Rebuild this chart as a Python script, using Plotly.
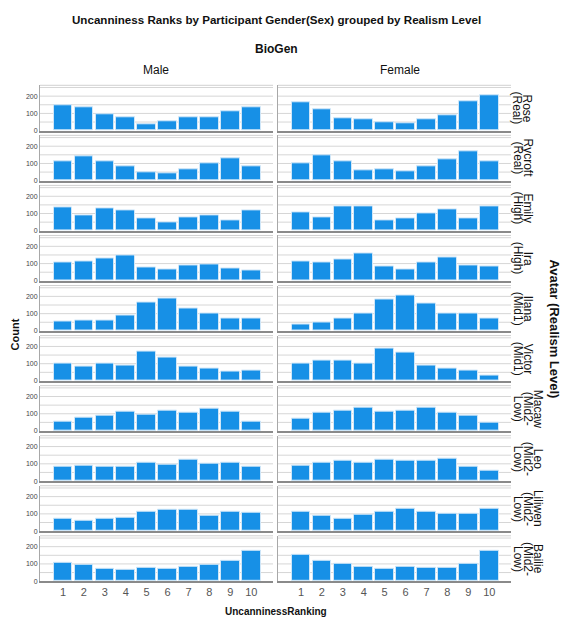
import plotly.graph_objects as go

W, H = 564, 621

ranks = [1, 2, 3, 4, 5, 6, 7, 8, 9, 10]
tick_labels = ["1", "2", "3", "4", "5", "6", "7", "8", "9", "10"]
genders = ["Male", "Female"]
avatars = ["Rose", "Rycroft", "Emily", "Ira", "Ilana", "Victor", "Macaw", "Leo", "Liliwen", "Bailie"]
levels = [["(Real)"], ["(Real)"], ["(High)"], ["(High)"], ["(Mid1)"], ["(Mid1)"],
          ["(Mid2-", "Low)"], ["(Mid2-", "Low)"], ["(Mid2-", "Low)"], ["(Mid2-", "Low)"]]

male_rose = [146, 135, 94, 75, 37, 56, 75, 79, 110, 137]
male_rycroft = [112, 142, 115, 85, 46, 40, 67, 98, 131, 85]
male_emily = [137, 92, 131, 119, 71, 48, 75, 90, 62, 119]
male_ira = [104, 115, 129, 150, 77, 67, 87, 94, 71, 58]
male_ilana = [52, 58, 60, 87, 165, 187, 127, 98, 69, 73]
male_victor = [98, 83, 98, 90, 171, 138, 85, 73, 56, 60]
male_macaw = [52, 77, 92, 113, 94, 121, 108, 131, 110, 56]
male_leo = [81, 92, 81, 81, 106, 96, 125, 102, 106, 83]
male_liliwen = [69, 58, 71, 79, 110, 125, 125, 87, 115, 108]
male_bailie = [106, 96, 71, 65, 75, 69, 81, 94, 117, 175]

female_rose = [163, 125, 69, 65, 50, 40, 65, 88, 171, 204]
female_rycroft = [98, 146, 113, 58, 67, 52, 83, 123, 173, 110]
female_emily = [106, 79, 142, 144, 60, 73, 100, 123, 73, 142]
female_ira = [110, 104, 125, 158, 81, 67, 108, 135, 88, 81]
female_ilana = [37, 50, 69, 100, 179, 204, 160, 100, 100, 69]
female_victor = [102, 121, 119, 102, 190, 162, 87, 69, 63, 33]
female_macaw = [73, 108, 119, 135, 115, 119, 137, 104, 90, 48]
female_leo = [92, 108, 119, 104, 123, 117, 119, 127, 85, 58]
female_liliwen = [112, 88, 73, 96, 110, 127, 115, 100, 100, 127]
female_bailie = [154, 119, 102, 85, 73, 85, 75, 79, 102, 175]

male = [male_rose, male_rycroft, male_emily, male_ira, male_ilana, male_victor,
        male_macaw, male_leo, male_liliwen, male_bailie]
female = [female_rose, female_rycroft, female_emily, female_ira, female_ilana, female_victor,
          female_macaw, female_leo, female_liliwen, female_bailie]

FONT = "Liberation Sans, Arial, sans-serif"
BAR = "#1790E6"

def px_x(p):
    return p / W

def px_y(p):
    return 1 - p / H

col_px = [(40, 273), (278, 511)]
row_bottom0 = 131.3
row_pitch = 50.3
row_h = 45.6

fig = go.Figure()
layout = {}
shapes = []
annotations = []

idx = 0
for r in range(10):
    bot = row_bottom0 + r * row_pitch
    top = bot - row_h
    for c in range(2):
        idx += 1
        xa = "xaxis" if idx == 1 else f"xaxis{idx}"
        ya = "yaxis" if idx == 1 else f"yaxis{idx}"
        xr = "x" if idx == 1 else f"x{idx}"
        yr = "y" if idx == 1 else f"y{idx}"
        vals = male[r] if c == 0 else female[r]
        fig.add_trace(go.Bar(
            x=ranks, y=vals, xaxis=xr, yaxis=yr, width=0.89,
            marker=dict(color=BAR, line=dict(color="#CFE6F8", width=1)),
            showlegend=False, hoverinfo="x+y"))
        x0, x1 = col_px[c]
        layout[xa] = dict(
            domain=[px_x(x0), px_x(x1)], anchor=yr, range=[-0.1, 11.04],
            tickmode="array", tickvals=ranks, ticktext=tick_labels,
            showticklabels=(r == 9), showgrid=False, zeroline=False,
            showline=True, linecolor="#8A8A8A", linewidth=1.5,
            ticks="", tickfont=dict(family=FONT, size=11, color="#555555"),
            fixedrange=True)
        layout[ya] = dict(
            domain=[px_y(bot), px_y(top)], anchor=xr, range=[0, 263],
            tickmode="array", tickvals=[0, 100, 200], ticktext=["0", "100", "200"],
            showticklabels=(c == 0), showgrid=False, zeroline=False,
            showline=True, linecolor="#A8A8A8", linewidth=1,
            ticks="", tickfont=dict(family=FONT, size=7, color="#444444"),
            fixedrange=True)
        for g in [50, 100, 150, 200, 250]:
            shapes.append(dict(type="line", xref=f"{xr} domain", yref=yr,
                               x0=0, x1=1, y0=g, y1=g,
                               line=dict(color="#D6D6D6", width=1), layer="below"))
        shapes.append(dict(type="line", xref=f"{xr} domain", yref=f"{yr} domain",
                           x0=0, x1=1, y0=1, y1=1,
                           line=dict(color="#D0D0D0", width=1), layer="below"))
    lines = [avatars[r]] + levels[r]
    n = len(lines)
    yc = (bot + top) / 2
    for i, t in enumerate(lines):
        annotations.append(dict(
            text=t, x=px_x(517.5 + (n - 1 - i) * 10), y=px_y(yc), xref="paper", yref="paper",
            showarrow=False, textangle=90, xanchor="center", yanchor="middle",
            font=dict(family=FONT, size=12, color="#111111")))

annotations += [
    dict(text="<b>Uncanniness Ranks by Participant Gender(Sex) grouped by Realism Level</b>",
         x=px_x(276), y=px_y(20), xref="paper", yref="paper", showarrow=False,
         xanchor="center", yanchor="middle", font=dict(family=FONT, size=11.6, color="#111111")),
    dict(text="<b>BioGen</b>", x=px_x(276), y=px_y(49), xref="paper", yref="paper",
         showarrow=False, xanchor="center", yanchor="middle",
         font=dict(family=FONT, size=12, color="#111111")),
    dict(text="Male", x=px_x(156), y=px_y(70), xref="paper", yref="paper",
         showarrow=False, xanchor="center", yanchor="middle",
         font=dict(family=FONT, size=12, color="#111111")),
    dict(text="Female", x=px_x(400), y=px_y(70), xref="paper", yref="paper",
         showarrow=False, xanchor="center", yanchor="middle",
         font=dict(family=FONT, size=12, color="#111111")),
    dict(text="<b>Count</b>", x=px_x(15), y=px_y(336), xref="paper", yref="paper",
         showarrow=False, textangle=-90, xanchor="center", yanchor="middle",
         font=dict(family=FONT, size=11, color="#111111")),
    dict(text="<b>UncanninessRanking</b>", x=px_x(276), y=px_y(614), xref="paper", yref="paper",
         showarrow=False, xanchor="center", yanchor="middle",
         font=dict(family=FONT, size=10, color="#111111")),
    dict(text="<b>Avatar (Realism Level)</b>", x=px_x(555), y=px_y(330), xref="paper", yref="paper",
         showarrow=False, textangle=90, xanchor="center", yanchor="middle",
         font=dict(family=FONT, size=13, color="#111111")),
]

fig.update_layout(
    width=W, height=H, margin=dict(l=0, r=0, t=0, b=0),
    paper_bgcolor="white", plot_bgcolor="white",
    bargap=0, shapes=shapes, annotations=annotations,
    font=dict(family=FONT), **layout)

fig.write_html("out.html", config={"displayModeBar": False},
               post_script="document.body.style.margin='0';")
